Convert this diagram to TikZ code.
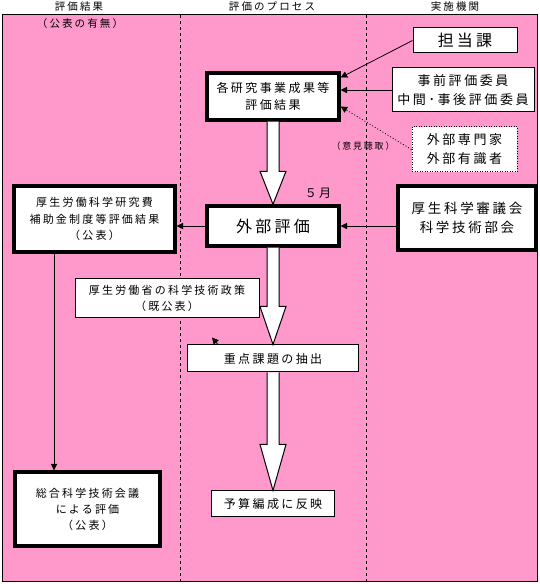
\documentclass[tikz,border=0pt]{standalone}
\usepackage{fontspec}
\setmainfont{Noto Sans CJK JP}
\newfontfamily\jpfont[LetterSpace=20]{Noto Sans CJK JP}
\usetikzlibrary{arrows.meta, calc, positioning}
\definecolor{lanePink}{RGB}{255,153,204}
\newcommand{\jpsize}[2]{\jpfont\fontsize{#1}{#2}\selectfont}
% hollow block arrow: start, end, head length
\newcommand{\fatarrow}[3]{%
  \draw[fatarrow] ($(#1)+(-6,0)$) -- ($(#2)+(-6,#3)$) -- ($(#2)+(-13,#3)$)
    -- (#2) -- ($(#2)+(13,#3)$) -- ($(#2)+(6,#3)$) -- ($(#1)+(6,0)$);}
\tikzset{
  box/.style={draw, fill=white, line width=1pt, align=center, inner sep=0pt},
  thickbox/.style={box, line width=3.4pt},
  dotbox/.style={box, dash pattern=on 1pt off 1.5pt},
  conn/.style={line width=0.8pt, -{Triangle[length=6.5pt, width=6.5pt]}},
  fatarrow/.style={draw, fill=white, line width=1pt, line join=miter},
  lane/.style={line width=0.8pt, dash pattern=on 3pt off 3pt},
}
\begin{document}
\begin{tikzpicture}[x=1pt, y=1pt]
  \useasboundingbox (0,0) rectangle (539,584);
  % ================= lanes =================
  \draw[fill=lanePink, line width=1pt] (2,2) rectangle (537,569);
  \draw[lane] (180,569) -- (180,2);
  \draw[lane] (366,569) -- (366,2);
  \node[font={\jpsize{10.5}{12}}] (hdResult) at (79,577) {評価結果};
  \node[font={\jpsize{10.5}{12}}] (hdProcess) at (272,577) {評価のプロセス};
  \node[font={\jpsize{10.5}{12}}] (hdAgency) at (455,577) {実施機関};
  \node[font={\jpsize{10.5}{12}}] (hdPublic) at (80,560) {（公表の有無）};
  % ================= boxes =================
  \node[box, minimum width=104pt, minimum height=25pt, font={\jpsize{16}{18}}]
    (tantou) at (465,543.5) {担当課};
  \node[box, minimum width=142pt, minimum height=44pt, font={\jpsize{13}{19}}]
    (iin) at (463,494) {事前評価委員\\中間･事後評価委員};
  \node[dotbox, minimum width=105pt, minimum height=45pt, font={\jpsize{13}{19}}]
    (expert) at (464.5,434.5) {外部専門家\\外部有識者};
  \node[thickbox, minimum width=132pt, minimum height=47pt, font={\jpsize{12}{16.5}}]
    (seika) at (273,487.5) {各研究事業成果等\\評価結果};
  \node[thickbox, minimum width=132pt, minimum height=40pt, font={\jpsize{16}{18}}]
    (hyouka) at (273,358) {外部評価};
  \node[font={\jpsize{12}{14}}] (month) at (318,391) {５月};
  \node[thickbox, minimum width=138pt, minimum height=64pt, font={\jpsize{13.5}{19}}]
    (shingi) at (467,366) {厚生科学審議会\\科学技術部会};
  \node[thickbox, minimum width=161pt, minimum height=66pt, font={\jpsize{11}{16.5}}]
    (kekka) at (94.5,365) {厚生労働科学研究費\\補助金制度等評価結果\\（公表）};
  \node[box, minimum width=184pt, minimum height=39pt, font={\jpsize{11}{16}}]
    (seisaku) at (167,285.5) {厚生労働省の科学技術政策\\（既公表）};
  \node[box, minimum width=171pt, minimum height=27pt, font={\jpsize{12}{16}}]
    (juten) at (273,225.5) {重点課題の抽出};
  \node[box, minimum width=123pt, minimum height=26pt, font={\jpsize{12}{16}}]
    (yosan) at (273,80) {予算編成に反映};
  \node[thickbox, minimum width=145pt, minimum height=74pt, font={\jpsize{11}{16}}]
    (sougou) at (87.5,75) {総合科学技術会議\\による評価\\（公表）};
  % ================= connectors =================
  \draw[conn] (tantou.west) -- ($(seika.east)+(0,19)$);
  \draw[conn] (iin.west) -- (iin.west -| seika.east);
  \draw[conn, dash pattern=on 1pt off 2pt] (expert.west)
    -- node[pos=0.22, anchor=north east, inner sep=1pt, font={\jpsize{9}{10}}]
       (hearing) {（意見聴取）}
    ($(seika.east)+(0,-10)$);
  \draw[conn] (hyouka.west) -- (hyouka.west -| kekka.east);
  \draw[conn] (shingi.west |- hyouka.east) -- (hyouka.east);
  \coordinate (drop) at (54,0);
  \draw[conn] (drop |- kekka.south) -- (drop |- sougou.north);
  \draw[conn] ($(juten.north west)+(31,0)$) -- ++(-6,7);
  % block arrows
  \fatarrow{seika.south}{hyouka.north}{33}
  \fatarrow{hyouka.south}{juten.north}{38}
  \fatarrow{juten.south}{yosan.north}{46}
\end{tikzpicture}
\end{document}
